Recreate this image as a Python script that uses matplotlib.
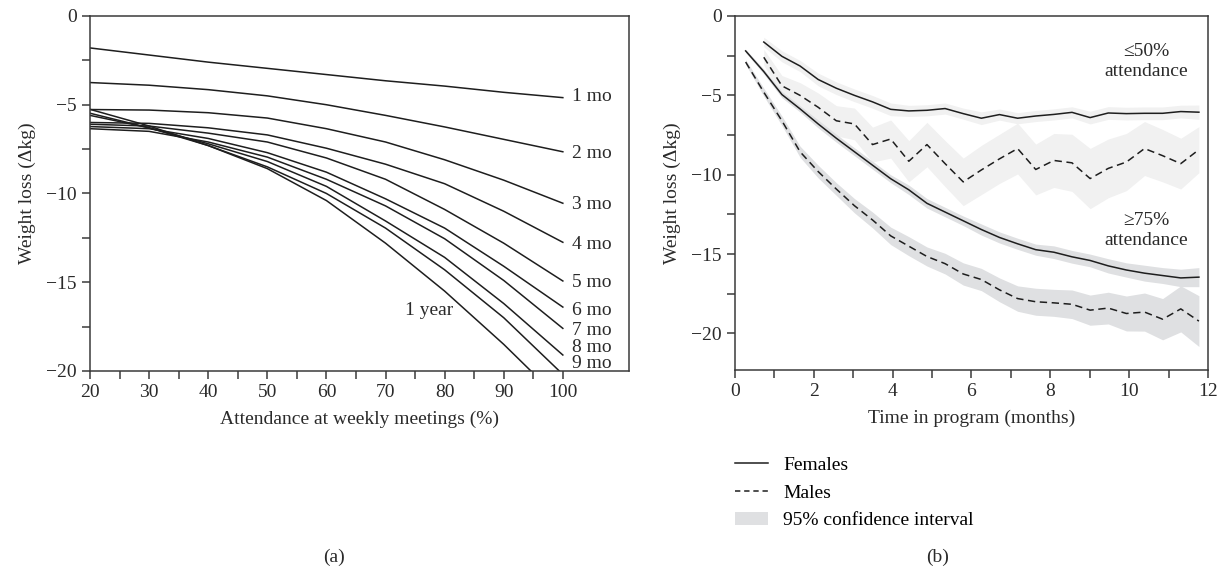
import matplotlib
matplotlib.use("Agg")
import matplotlib.pyplot as plt
from matplotlib.lines import Line2D
from matplotlib.patches import Patch
from matplotlib.ticker import MultipleLocator

plt.rcParams['font.family'] = ['Liberation Serif', 'DejaVu Serif']
plt.rcParams['font.size'] = 14

# ---- panel (a): weight loss vs attendance, one curve per time in program
att = [20, 30, 40, 50, 60, 70, 80, 90, 100]
curve_labels = ["1 mo", "2 mo", "3 mo", "4 mo", "5 mo", "6 mo", "7 mo", "8 mo", "9 mo", "1 year"]
mo1 = [-1.8, -2.2, -2.6, -2.95, -3.3, -3.65, -3.95, -4.3, -4.6]
mo2 = [-3.75, -3.9, -4.15, -4.5, -5.0, -5.6, -6.25, -6.95, -7.65]
mo3 = [-5.27, -5.3, -5.45, -5.75, -6.35, -7.1, -8.1, -9.25, -10.55]
mo4 = [-6.0, -6.05, -6.3, -6.7, -7.45, -8.35, -9.45, -11.0, -12.75]
mo5 = [-6.1, -6.2, -6.6, -7.1, -8.0, -9.2, -10.9, -12.8, -14.93]
mo6 = [-6.23, -6.35, -6.9, -7.7, -8.8, -10.3, -11.95, -14.1, -16.4]
mo7 = [-6.35, -6.5, -7.1, -7.95, -9.2, -10.7, -12.55, -14.9, -17.6]
mo8 = [-5.6, -6.3, -7.2, -8.2, -9.6, -11.55, -13.6, -16.2, -19.1]
att9 = [20, 30, 40, 50, 60, 70, 80, 90, 99.4]
mo9 = [-5.48, -6.3, -7.3, -8.5, -10.0, -11.95, -14.3, -17.0, -20.0]
att12 = [20, 30, 40, 50, 60, 70, 80, 90, 94.6]
yr1 = [-5.26, -6.2, -7.3, -8.6, -10.4, -12.8, -15.5, -18.5, -20.0]
label_y = [-4.55, -7.75, -10.6, -12.9, -15.0, -16.6, -17.7, -18.65, -19.6]

# ---- panel (b): weight loss over time, by sex and attendance group
months = [0.27, 0.73, 1.19, 1.65, 2.11, 2.57, 3.03, 3.49, 3.95, 4.41, 4.87, 5.33, 5.79,
          6.25, 6.71, 7.17, 7.63, 8.09, 8.55, 9.01, 9.47, 9.93, 10.39, 10.85, 11.31, 11.77]
# <=50% attendance (starts at second time point)
fem50 = [-1.64, -2.54, -3.15, -4.0, -4.55, -5.0, -5.41, -5.88, -5.98, -5.94, -5.83, -6.15,
         -6.44, -6.21, -6.44, -6.3, -6.2, -6.07, -6.4, -6.11, -6.15, -6.13, -6.13, -6.02, -6.06]
fem50_ci = [0.3, 0.35, 0.35, 0.4, 0.4, 0.4, 0.4, 0.4, 0.35, 0.35, 0.35, 0.35, 0.4, 0.35,
            0.35, 0.35, 0.35, 0.35, 0.4, 0.4, 0.4, 0.4, 0.4, 0.4, 0.45]
male50 = [-2.6, -4.4, -5.0, -5.75, -6.6, -6.8, -8.1, -7.75, -9.15, -8.1, -9.3, -10.45,
          -9.7, -9.0, -8.35, -9.67, -9.1, -9.25, -10.24, -9.6, -9.2, -8.35, -8.8, -9.3, -8.42]
male50_ci = [0.5, 0.65, 0.8, 0.9, 0.95, 1.0, 1.1, 1.2, 1.3, 1.4, 1.45, 1.5, 1.55, 1.55,
             1.6, 1.6, 1.7, 1.8, 1.9, 1.85, 1.8, 1.7, 1.65, 1.6, 1.45]
# >=75% attendance
fem75 = [-2.2, -3.5, -4.95, -5.85, -6.8, -7.7, -8.55, -9.4, -10.25, -10.95, -11.8, -12.35,
         -12.9, -13.45, -13.95, -14.35, -14.72, -14.88, -15.17, -15.4, -15.74, -16.0,
         -16.2, -16.35, -16.5, -16.45]
fem75_ci = [0.1, 0.15, 0.2, 0.2, 0.25, 0.25, 0.25, 0.25, 0.25, 0.3, 0.3, 0.3, 0.3, 0.35,
            0.35, 0.35, 0.35, 0.4, 0.4, 0.4, 0.45, 0.45, 0.5, 0.5, 0.55, 0.6]
male75 = [-2.9, -4.8, -6.6, -8.55, -9.8, -10.9, -11.95, -12.85, -13.85, -14.5, -15.15,
          -15.6, -16.25, -16.6, -17.25, -17.8, -18.0, -18.07, -18.16, -18.53, -18.4,
          -18.74, -18.65, -19.1, -18.45, -19.22]
male75_ci = [0.15, 0.25, 0.3, 0.35, 0.4, 0.4, 0.45, 0.5, 0.55, 0.6, 0.6, 0.65, 0.7, 0.7,
             0.75, 0.8, 0.85, 0.85, 0.9, 0.95, 1.0, 1.1, 1.2, 1.3, 1.45, 1.6]

ink = "#1e1e1e"
spine_c = "#3a3a3a"
txt_c = "#2a2a2a"
light_band = "#f1f1f1"
dark_band = "#dfe0e2"

fig = plt.figure(figsize=(12.25, 5.71), dpi=100)
ax1 = fig.add_axes([0.0735, 0.3503, 0.44, 0.6217])
ax2 = fig.add_axes([0.6, 0.352, 0.3861, 0.62])

for ax in (ax1, ax2):
    for s in ax.spines.values():
        s.set_color(spine_c)
        s.set_linewidth(1.1)
    ax.tick_params(which="both", direction="out", length=6, width=1.1,
                   color=spine_c, labelcolor=txt_c, labelsize=14)
    ax.yaxis.set_major_locator(MultipleLocator(5))
    ax.yaxis.set_minor_locator(MultipleLocator(2.5))

# panel (a)
series = [mo1, mo2, mo3, mo4, mo5, mo6, mo7, mo8]
for ys in series:
    ax1.plot(att, ys, color=ink, lw=1.1)
ax1.plot(att9, mo9, color=ink, lw=1.1)
ax1.plot(att12, yr1, color=ink, lw=1.1)
for lab, yy in zip(curve_labels[:9], label_y):
    ax1.text(101.5, yy, lab, ha="left", va="center", fontsize=14, color=txt_c)
ax1.text(77.4, -16.6, curve_labels[9], ha="center", va="center", fontsize=14, color=txt_c)
ax1.set_xlim(20, 111.2)
ax1.set_ylim(-20, 0)
ax1.set_xticks(range(20, 101, 10))
ax1.set_xticks(range(25, 100, 10), minor=True)
ax1.set_xlabel("Attendance at weekly meetings (%)", fontsize=14, color=txt_c, labelpad=7)
ax1.set_ylabel("Weight loss (\u0394kg)", fontsize=14, color=txt_c, labelpad=7)

# panel (b)
m50 = months[1:]
ax2.fill_between(m50, [v - c for v, c in zip(fem50, fem50_ci)],
                 [v + c for v, c in zip(fem50, fem50_ci)], color=light_band, lw=0, zorder=1)
ax2.fill_between(m50, [v - c for v, c in zip(male50, male50_ci)],
                 [v + c for v, c in zip(male50, male50_ci)], color=light_band, lw=0, zorder=1)
ax2.fill_between(months, [v - c for v, c in zip(fem75, fem75_ci)],
                 [v + c for v, c in zip(fem75, fem75_ci)], color=dark_band, lw=0, zorder=1)
ax2.fill_between(months, [v - c for v, c in zip(male75, male75_ci)],
                 [v + c for v, c in zip(male75, male75_ci)], color=dark_band, lw=0, zorder=1)
ax2.plot(m50, fem50, color=ink, lw=1.1, zorder=3)
ax2.plot(m50, male50, color=ink, lw=1.1, dashes=(4.8, 3), zorder=3)
ax2.plot(months, fem75, color=ink, lw=1.1, zorder=3)
ax2.plot(months, male75, color=ink, lw=1.1, dashes=(4.8, 3), zorder=3)
ax2.text(10.43, -2.85, "\u226450%\nattendance", ha="center", va="center",
         fontsize=14, color=txt_c, linespacing=1.2)
ax2.text(10.43, -13.5, "\u226575%\nattendance", ha="center", va="center",
         fontsize=14, color=txt_c, linespacing=1.2)
ax2.set_xlim(0, 12)
ax2.set_ylim(-22.3, 0)
ax2.set_xticks(range(0, 13, 2))
ax2.set_xticks(range(1, 12, 2), minor=True)
ax2.set_xlabel("Time in program (months)", fontsize=14, color=txt_c, labelpad=7)
ax2.set_ylabel("Weight loss (\u0394kg)", fontsize=14, color=txt_c, labelpad=7)

handles = [Line2D([], [], color=ink, lw=1.1),
           Line2D([], [], color=ink, lw=1.1, dashes=(3.5, 2.5)),
           Patch(facecolor=dark_band, edgecolor="none")]
fig.legend(handles, ["Females", "Males", "95% confidence interval"],
           loc="upper left", bbox_to_anchor=(0.6, 0.201), frameon=False,
           fontsize=14, handlelength=1.7, handletextpad=0.77, labelspacing=0.52,
           borderaxespad=0, borderpad=0)

fig.text(0.273, 0.0245, "(a)", ha="center", va="center", fontsize=14, color=txt_c)
fig.text(0.765, 0.0245, "(b)", ha="center", va="center", fontsize=14, color=txt_c)

fig.savefig("out.png", dpi=100, facecolor="white")
